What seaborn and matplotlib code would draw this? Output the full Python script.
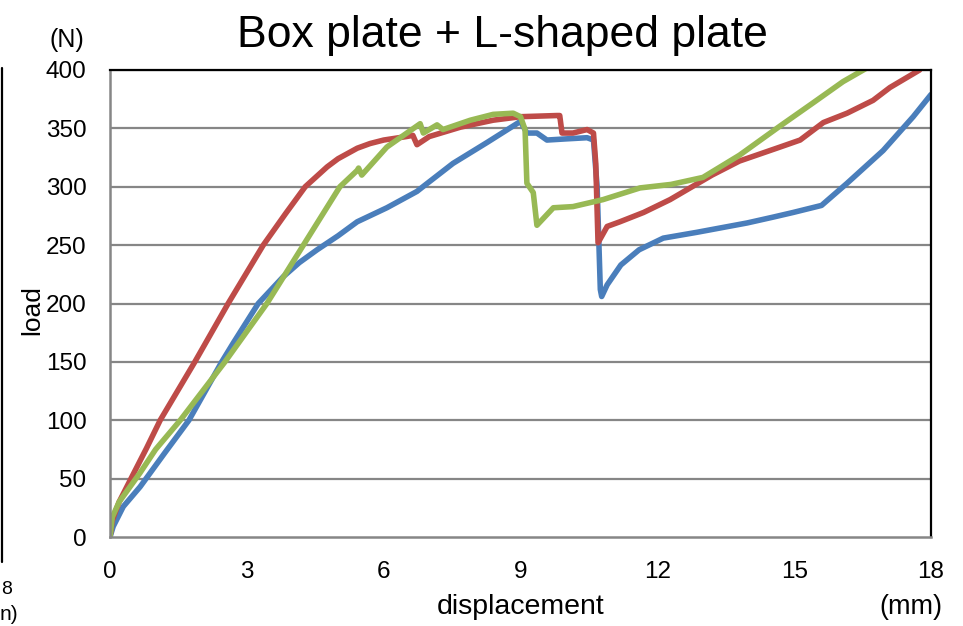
import matplotlib
matplotlib.use("Agg")
import matplotlib.pyplot as plt
import seaborn as sns
import pandas as pd

# Load-displacement curves (displacement in mm, load in N)
blue_x = [0, 0.07, 0.29, 0.66, 1.2, 1.73, 2.45, 2.7, 3.25, 3.8, 4.15, 4.54, 5.0, 5.42,
          6.07, 6.73, 6.86, 7.52, 8.27, 9.0, 9.14, 9.36, 9.58, 10.0, 10.46, 10.6, 10.68,
          10.75, 10.78, 10.9, 11.2, 11.6, 12.13, 12.87, 13.97, 14.54, 14.98, 15.6, 16.16,
          16.95, 17.61, 18.0]
blue_y = [0, 9, 26, 43, 72, 100, 150, 166, 200, 223, 235, 246, 258, 270,
          282, 296, 300, 320, 338, 356, 346, 346, 340, 341, 342, 340, 300,
          212, 206, 216, 233, 246, 256, 261, 269, 274, 278, 284, 303,
          331, 360, 379]

red_x = [0, 0.05, 0.2, 0.46, 0.8, 1.1, 1.86, 2.59, 3.36, 3.85, 4.28, 4.76, 5.0, 5.42,
         5.7, 6.0, 6.5, 6.64, 6.73, 7.0, 7.68, 8.4, 9.0, 9.8, 9.86, 9.91, 10.15, 10.46,
         10.6, 10.65, 10.7, 10.9, 11.18, 11.7, 12.28, 13.2, 13.8, 14.69, 15.13, 15.64,
         16.16, 16.73, 17.1, 17.75]
red_y = [0, 14, 30, 50, 76, 100, 150, 200, 250, 277, 300, 317, 324, 333,
         337, 340, 343, 344, 336, 343, 351, 357, 360, 361, 361, 346, 346, 349,
         346, 320, 252, 266, 270, 278, 289, 310, 322, 334, 340, 355,
         363, 374, 385, 400]

green_x = [0, 0.05, 0.2, 0.66, 1.0, 1.54, 2.52, 3.44, 4.24, 5.04, 5.42, 5.45, 5.52, 6.07,
           6.8, 6.87, 7.17, 7.3, 7.9, 8.4, 8.84, 9.0, 9.1, 9.14, 9.28, 9.36, 9.72, 10.15,
           10.81, 11.62, 12.3, 13.0, 13.8, 14.69, 15.42, 16.07, 16.56]
green_y = [0, 17, 30, 55, 75, 100, 150, 200, 250, 300, 314, 316, 310, 334,
           354, 346, 353, 349, 357, 362, 363, 360, 349, 303, 295, 267, 282, 283,
           289, 299, 302, 308, 327, 352, 372, 390, 401]

x_ticks = [0, 3, 6, 9, 12, 15, 18]
y_ticks = [0, 50, 100, 150, 200, 250, 300, 350, 400]

series = [("blue", blue_x, blue_y, "#4A7EBB"),
          ("red", red_x, red_y, "#BE4B48"),
          ("green", green_x, green_y, "#98B954")]

sns.set_style("white")
plt.rcParams["font.family"] = ["Liberation Sans", "DejaVu Sans"]
plt.rcParams["text.color"] = "black"

fig = plt.figure(figsize=(9.63, 6.26), dpi=100)
ax = fig.add_axes([110 / 963, 1 - 537 / 626, (931 - 110) / 963, (537 - 70) / 626])

grid_col = "#868686"
for yv in y_ticks[1:]:
    ax.axhline(yv, color=grid_col, lw=1.6, zorder=1)

for name, xs, ys, col in series:
    df = pd.DataFrame({"displacement": xs, "load": ys})
    sns.lineplot(data=df, x="displacement", y="load", sort=False, color=col,
                 lw=4.0, ax=ax, zorder=3, solid_joinstyle="round",
                 solid_capstyle="round")

ax.set_xlim(0, 18)
ax.set_ylim(0, 400)
ax.set_xticks(x_ticks)
ax.set_yticks(y_ticks)
ax.set_xticklabels([str(v) for v in x_ticks], fontsize=17.5)
ax.set_yticklabels([str(v) for v in y_ticks], fontsize=17.5)
ax.tick_params(axis="both", direction="out", length=6, width=1.6, color=grid_col,
               labelcolor="black")
ax.tick_params(axis="x", pad=11)
ax.tick_params(axis="y", pad=11)

ax.spines["left"].set_color(grid_col)
ax.spines["left"].set_linewidth(1.8)
ax.spines["bottom"].set_color(grid_col)
ax.spines["bottom"].set_linewidth(1.8)
ax.spines["top"].set_color("black")
ax.spines["top"].set_linewidth(1.6)
ax.spines["right"].set_color("black")
ax.spines["right"].set_linewidth(1.6)
for s in ax.spines.values():
    s.set_zorder(4)

ax.set_xlabel("")
ax.set_ylabel("")
ax.set_title("")

fig.text(502 / 963, 1 - 35 / 626, "Box plate + L-shaped plate", ha="center",
         va="center", fontsize=32, color="black")
fig.text(67 / 963, 1 - 40 / 626, "(N)", ha="center", va="center", fontsize=18,
         color="black")
fig.text(32 / 963, 1 - 310 / 626, "load", ha="center", va="center", fontsize=19,
         rotation=90, color="black")
fig.text(521 / 963, 1 - 607 / 626, "displacement", ha="center", va="center",
         fontsize=20.5, color="black")
fig.text(911 / 963, 1 - 607 / 626, "(mm)", ha="center", va="center", fontsize=19.5,
         color="black")

# neighbouring panel edge at the left margin
fig.add_artist(plt.Line2D([1.5 / 963, 1.5 / 963], [1 - 68 / 626, 1 - 562 / 626],
                          color="black", lw=1.6, transform=fig.transFigure))
fig.text(1 / 963, 1 - 590 / 626, "8", ha="left", va="center", fontsize=14,
         color="black")
fig.text(0 / 963, 1 - 614 / 626, "n)", ha="left", va="center", fontsize=15,
         color="black")

fig.savefig("out.png", dpi=100)
